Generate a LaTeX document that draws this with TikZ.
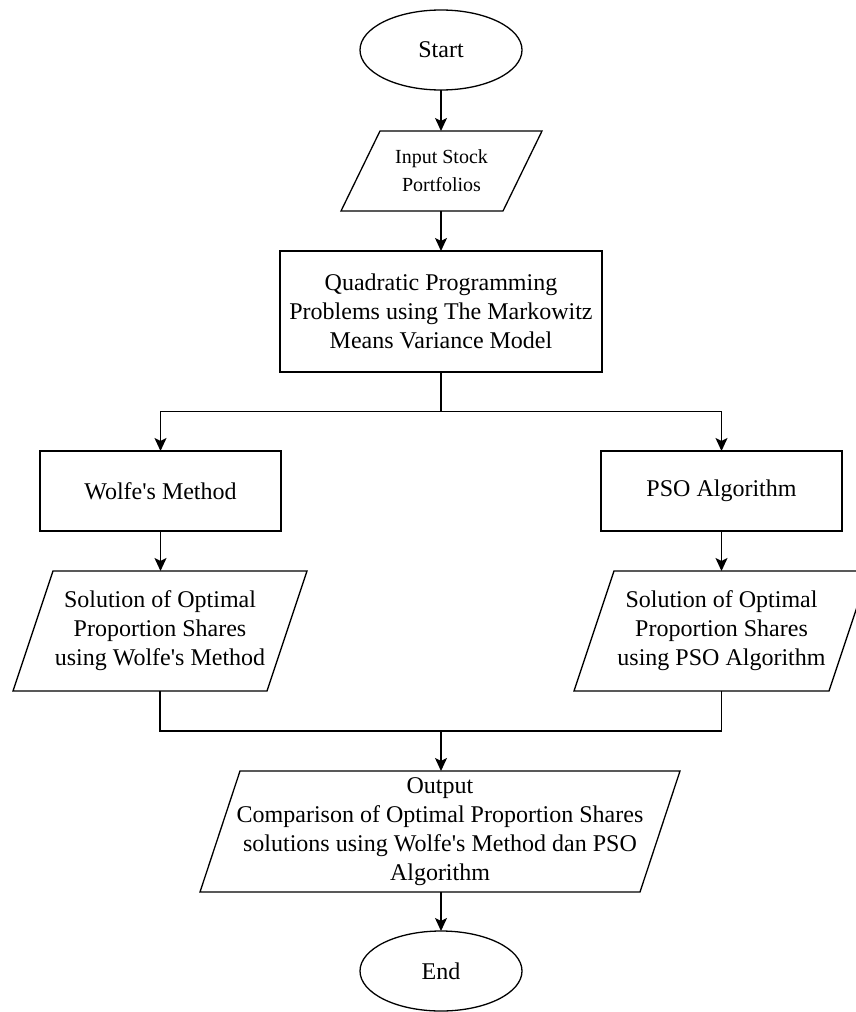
\documentclass[tikz,border=0pt]{standalone}
\usepackage{fontspec}
\setmainfont{Liberation Serif}[Ligatures=TeXOff]
\usetikzlibrary{shapes.geometric,arrows.meta,calc}
\tikzset{
  every node/.style={inner sep=0pt, outer sep=0pt, align=center, font=\fontsize{24}{29}\selectfont},
  line/.style={line width=1.3pt, black},
  arr/.style={line, -{Stealth[length=13pt,width=12pt,inset=3pt]}},
  terminal/.style={ellipse, draw, line width=1.3pt, minimum width=162pt, minimum height=80pt},
  procbox/.style={rectangle, draw, line width=1.3pt},
  iobox/.style={rectangle},
  smalltext/.style={font=\fontsize{20}{28}\selectfont}
}
\newcommand{\paraoutline}[2]{%
  \draw[line] ([xshift=#2pt]#1.north west) -- (#1.north east) -- ([xshift=-#2pt]#1.south east) -- (#1.south west) -- cycle;}
\begin{document}
\begin{tikzpicture}[x=1pt,y=-1pt]
\useasboundingbox (0,0) rectangle (856,1012);
\clip (0,0) rectangle (856,1012);
% nodes
\node[terminal] (start) at (441,50) {Start};
\node[iobox, smalltext, minimum width=201pt, minimum height=80pt] (input) at (441.5,171) {Input Stock\\Portfolios};
\paraoutline{input}{39}
\node[procbox, minimum width=322pt, minimum height=121pt] (quad) at (441,311.5) {Quadratic Programming\\Problems using The Markowitz\\Means Variance Model};
\node[procbox, minimum width=241pt, minimum height=80pt] (wolfe) at (160.5,491) {Wolfe's Method};
\node[procbox, minimum width=241pt, minimum height=80pt] (pso) at (721.5,491) {PSO Algorithm};
\node[iobox, minimum width=294pt, minimum height=120pt] (solw) at (160,631) {Solution of Optimal\\Proportion Shares\\using Wolfe's Method};
\paraoutline{solw}{40}
\node[iobox, minimum width=295pt, minimum height=120pt] (solp) at (721.5,631) {Solution of Optimal\\Proportion Shares\\using PSO Algorithm};
\paraoutline{solp}{40}
\node[iobox, minimum width=480pt, minimum height=121pt] (out) at (440,831.5) {Output\\Comparison of Optimal Proportion Shares\\solutions using Wolfe's Method dan PSO\\Algorithm};
\paraoutline{out}{40}
\node[terminal] (end) at (441,971) {End};
\coordinate (j1) at (441,411.5);
\coordinate (j2) at (441,731);
% connectors
\draw[arr] (start.south) -- (start.south |- input.north);
\draw[arr] (input.south -| quad.north) -- (quad.north);
\draw[line] (quad.south) -- (j1);
\draw[arr] (j1) -| (wolfe.north);
\draw[arr] (j1) -| (pso.north);
\draw[arr] (wolfe.south) -- (wolfe.south |- solw.north);
\draw[arr] (pso.south) -- (pso.south |- solp.north);
\draw[line] (solw.south) -- (solw.south |- j2) -- (solp.south |- j2) -- (solp.south);
\draw[arr] (j2) -- (j2 |- out.north);
\draw[arr] (out.south -| end.north) -- (end.north);
\end{tikzpicture}
\end{document}
